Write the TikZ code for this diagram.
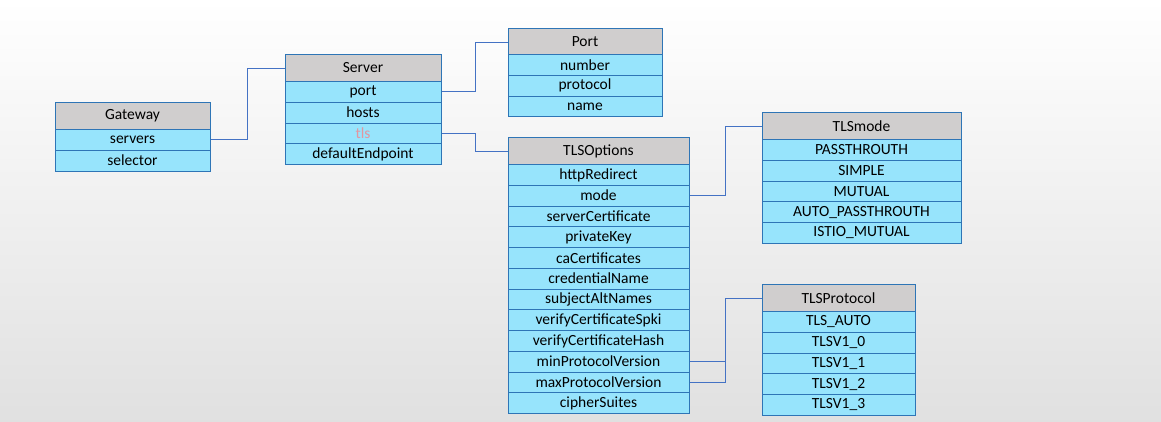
\documentclass[tikz,border=0pt]{standalone}
\usepackage{fontspec}
\setmainfont{Carlito}
\usetikzlibrary{positioning}
\definecolor{hdrgray}{RGB}{208,206,206}
\definecolor{rowcyan}{RGB}{151,228,252}
\definecolor{boxblue}{RGB}{46,117,182}
\definecolor{linkblue}{RGB}{68,114,196}
\definecolor{tlspink}{RGB}{226,150,160}

\begin{document}
\begin{tikzpicture}[x=1pt,y=-1pt,
		hdr/.style={draw=boxblue, fill=hdrgray, line width=1pt, inner sep=0pt, minimum height=27pt, anchor=north, font=\fontsize{15.5}{17}\selectfont},
		fld/.style={draw=boxblue, fill=rowcyan, line width=1pt, inner sep=0pt, minimum height=20.75pt, anchor=north, font=\fontsize{15.5}{17}\selectfont},
		link/.style={draw=linkblue, line width=1pt}
		]
		
		\useasboundingbox (0,0) rectangle (1161,421);
		\shade[top color=white, middle color=black!2, bottom color=black!12] (0,0) rectangle (1161,421);
		
		% Gateway
		\node[hdr, minimum width=155pt] (gw) at (132.5,102) {Gateway};
		\foreach \f [count=\i] in {servers,selector}
		\node[fld, minimum width=155pt] (gw\i) at (132.5, {129+(\i-1)*20.75}) {\f};
		
		% Server
		\node[hdr, minimum width=156pt] (srv) at (363,54) {Server};
		\foreach \f [count=\i] in {port,hosts,\textcolor{tlspink}{tls},defaultEndpoint}
		\node[fld, minimum width=156pt] (srv\i) at (363, {81+(\i-1)*20.75}) {\f};
		
		% Port
		\node[hdr, minimum width=154pt] (port) at (585,28) {Port};
		\foreach \f [count=\i] in {number,protocol,name}
		\node[fld, minimum width=154pt] (port\i) at (585, {54+(\i-1)*20.75}) {\f};
		
		% TLSOptions
		\node[hdr, minimum width=181pt] (tls) at (598.5,137) {TLSOptions};
		\foreach \f [count=\i] in {httpRedirect,mode,serverCertificate,privateKey,caCertificates,credentialName,subjectAltNames,verifyCertificateSpki,verifyCertificateHash,minProtocolVersion,maxProtocolVersion,cipherSuites}
		\node[fld, minimum width=181pt] (tls\i) at (598.5, {164+(\i-1)*20.75}) {\f};
		
		% TLSmode
		\node[hdr, minimum width=199pt] (mode) at (861.5,112) {TLSmode};
		\foreach \f [count=\i] in {PASSTHROUTH,SIMPLE,MUTUAL,AUTO\_PASSTHROUTH,ISTIO\_MUTUAL}
		\node[fld, minimum width=199pt] (mode\i) at (861.5, {139+(\i-1)*20.75}) {\f};
		
		% TLSProtocol
		\node[hdr, minimum width=153pt] (proto) at (838.5,284) {TLSProtocol};
		\foreach \f [count=\i] in {TLS\_AUTO,TLSV1\_0,TLSV1\_1,TLSV1\_2,TLSV1\_3}
		\node[fld, minimum width=153pt] (proto\i) at (838.5, {311+(\i-1)*20.75}) {\f};
		
		% links
		\draw[link] (gw1.east) -- ++(37,0) |- (srv.west);
		\draw[link] (srv1.east) -- ++(34,0) |- (port.west);
		\draw[link] (srv3.east) -- ++(34,0) |- (tls.west);
		\draw[link] (tls2.east) -- ++(36,0) |- (mode.west);
		\draw[link] (tls10.east) -- ++(36,0) |- (proto.west);
		\draw[link] (tls11.east) -- ++(36,0) |- (proto.west);
		
\end{tikzpicture}
\end{document}
